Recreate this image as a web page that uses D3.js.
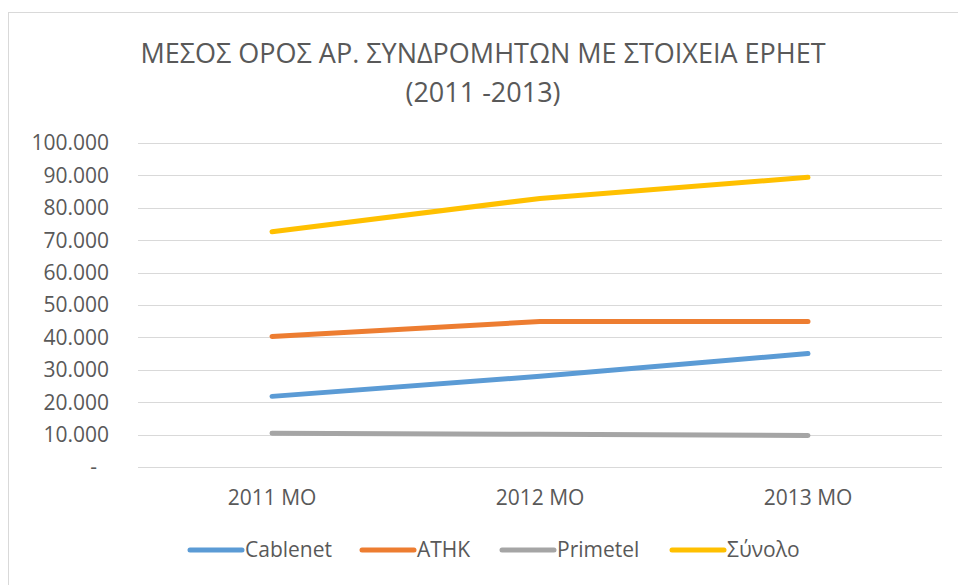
<!DOCTYPE html>
<html>
<head>
<meta charset="utf-8">
<script src="https://cdn.jsdelivr.net/npm/d3@7"></script>
<style>
  body { margin: 0; background: #fff; }
  text { font-family: "Open Sans", "Noto Sans", sans-serif; fill: #595959; }
</style>
</head>
<body>
<div id="svgContainer"></div>
<script>
// chart values
const categories = ["2011 ΜΟ", "2012 ΜΟ", "2013 ΜΟ"];
const seriesNames = ["Cablenet", "ATHK", "Primetel", "Σύνολο"];
const cablenet = [21800, 28000, 35000];
const athk = [40300, 44900, 44900];
const primetel = [10400, 10100, 9700];
const synolo = [72600, 82900, 89400];
const yTicks = [0, 10000, 20000, 30000, 40000, 50000, 60000, 70000, 80000, 90000, 100000];
const titleLines = ["ΜΕΣΟΣ ΟΡΟΣ ΑΡ. ΣΥΝΔΡΟΜΗΤΩΝ ΜΕ ΣΤΟΙΧΕΙΑ ΕΡΗΕΤ", "(2011 -2013)"];
const colors = ["#5b9bd5", "#ed7d31", "#a5a5a5", "#ffc000"];

const series = [cablenet, athk, primetel, synolo].map((values, i) => ({
    name: seriesNames[i],
    color: colors[i],
    values: values
}));

const width = 958;
const height = 585;

const svg = d3.select("#svgContainer").append("svg")
    .attr("width", width)
    .attr("height", height);

// chart frame
svg.append("rect")
    .attr("x", 8.5)
    .attr("y", 12.5)
    .attr("width", 980)
    .attr("height", 600)
    .attr("fill", "none")
    .attr("stroke", "#d9d9d9");

// title
svg.append("g")
    .selectAll("text")
    .data(titleLines)
    .join("text")
    .attr("x", 483)
    .attr("y", (d, i) => 54 + i * 39)
    .attr("dy", "0.35em")
    .attr("text-anchor", "middle")
    .attr("font-size", 27)
    .text(d => d);

const plot = { left: 138, right: 942, top: 143, bottom: 467 };

const x = d3.scalePoint()
    .domain(categories)
    .range([plot.left, plot.right])
    .padding(0.5);

const y = d3.scaleLinear()
    .domain([0, 100000])
    .range([plot.bottom, plot.top]);

const fmt = d => d === 0 ? "-" : d3.format(",")(d).replace(/,/g, ".");

// gridlines
svg.append("g")
    .selectAll("line")
    .data(yTicks)
    .join("line")
    .attr("x1", plot.left)
    .attr("x2", plot.right)
    .attr("y1", d => Math.round(y(d)) + 0.5)
    .attr("y2", d => Math.round(y(d)) + 0.5)
    .attr("stroke", "#d9d9d9")
    .attr("stroke-width", 1.2);

// y labels
svg.append("g")
    .attr("text-anchor", "end")
    .selectAll("text")
    .data(yTicks)
    .join("text")
    .attr("x", d => d === 0 ? 97 : 109)
    .attr("y", d => y(d))
    .attr("dy", "0.35em")
    .attr("font-size", 21)
    .text(fmt);

// x labels
svg.append("g")
    .attr("text-anchor", "middle")
    .selectAll("text")
    .data(categories)
    .join("text")
    .attr("x", d => x(d))
    .attr("y", 498)
    .attr("dy", "0.35em")
    .attr("font-size", 21)
    .text(d => d);

// lines
const line = d3.line()
    .x((d, i) => x(categories[i]))
    .y(d => y(d));

svg.append("g")
    .selectAll("path")
    .data(series)
    .join("path")
    .attr("d", d => line(d.values))
    .attr("fill", "none")
    .attr("stroke", d => d.color)
    .attr("stroke-width", 5)
    .attr("stroke-linecap", "round")
    .attr("stroke-linejoin", "round");

// legend
const legendX = [188, 360, 500, 670];
const legend = svg.append("g")
    .selectAll("g")
    .data(series)
    .join("g")
    .attr("transform", (d, i) => `translate(${legendX[i]}, 550)`);

legend.append("line")
    .attr("x1", 2)
    .attr("x2", 54)
    .attr("stroke", d => d.color)
    .attr("stroke-width", 5)
    .attr("stroke-linecap", "round");

legend.append("text")
    .attr("x", 57)
    .attr("dy", "0.35em")
    .attr("font-size", 21)
    .text(d => d.name);
</script>
</body>
</html>
